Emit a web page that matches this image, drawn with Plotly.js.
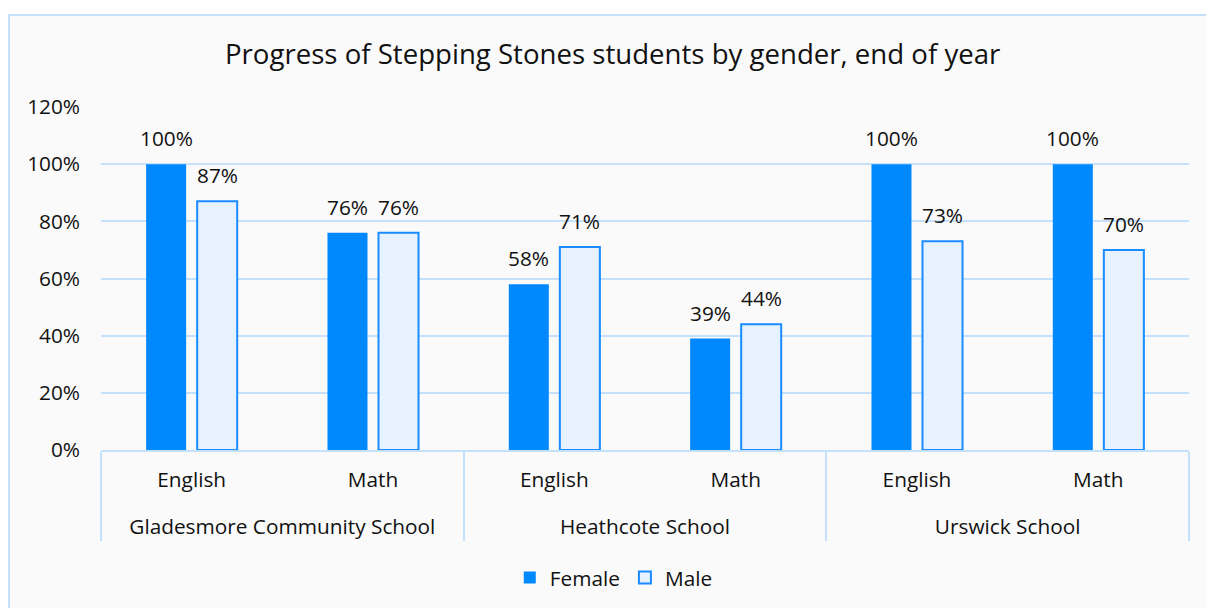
<!DOCTYPE html>
<html>
<head>
<meta charset="utf-8">
<script src="https://cdn.plot.ly/plotly-3.0.1.min.js"></script>
<style>
  html, body { margin: 0; padding: 0; background: #ffffff; width: 1206px; height: 608px; overflow: hidden; }
  #frame { position: absolute; left: 8px; top: 14px; width: 1220px; height: 620px; border: 2px solid #c5e0fb; background: #fafafa; box-sizing: border-box; }
  #chart { position: absolute; left: 0; top: 0; width: 1206px; height: 608px; }
</style>
</head>
<body>
<div id="frame"></div>
<div id="chart"></div>
<script>
const schools = ["Gladesmore Community School", "Gladesmore Community School", "Heathcote School", "Heathcote School", "Urswick School", "Urswick School"];
const subjects = ["English", "Math", "English", "Math", "English", "Math"];
const female = [1.00, 0.76, 0.58, 0.39, 1.00, 1.00];
const male = [0.87, 0.76, 0.71, 0.44, 0.73, 0.70];
const yTicks = [0, 0.2, 0.4, 0.6, 0.8, 1.0, 1.2];
const yTickLabels = ["0%", "20%", "40%", "60%", "80%", "100%", "120%"];

const FONT = "Open Sans, Noto Sans, sans-serif";
const FS = 20.8;
// outer labels drawn one line lower (leading empty line), as in the reference
const outer = schools.map(s => "<br>" + s);
const xCats = [outer, subjects];

const traces = [
  {
    type: "bar", name: "Female", x: xCats, y: female,
    marker: { color: "#0088ff", line: { color: "#0088ff", width: 0 } }
  },
  {
    type: "bar", name: "Male", x: xCats, y: male,
    marker: { color: "#e6f2ff", line: { color: "#1a8cff", width: 2 } }
  }
];

const pct = v => Math.round(v * 100) + "%";
const annotations = [];
[[female, -25.5], [male, 25.5]].forEach(([vals, dx]) => {
  vals.forEach((v, i) => {
    annotations.push({
      xref: "x", yref: "y", x: i, y: v, xshift: dx, yshift: 10,
      text: pct(v), showarrow: false, xanchor: "center", yanchor: "bottom",
      font: { family: FONT, size: FS, color: "#111111" }
    });
  });
});

const layout = {
  width: 1206, height: 608,
  margin: { l: 101, r: 17, t: 107, b: 158, autoexpand: false },
  paper_bgcolor: "rgba(0,0,0,0)",
  plot_bgcolor: "rgba(0,0,0,0)",
  font: { family: FONT, size: FS, color: "#111111" },
  title: {
    text: "Progress of Stepping Stones students by gender, end of year",
    font: { family: FONT, size: 27.6, color: "#111111" },
    x: 0.508, xanchor: "center", xref: "container",
    y: 0.91, yanchor: "middle", yref: "container"
  },
  barmode: "group",
  bargap: 0.437,
  bargroupgap: 0.216,
  showlegend: true,
  legend: {
    orientation: "h", x: 0.4713, xanchor: "center", y: -0.373, yanchor: "middle",
    font: { family: FONT, size: FS, color: "#111111" },
    bgcolor: "rgba(0,0,0,0)", itemwidth: 30
  },
  annotations: annotations,
  xaxis: {
    type: "multicategory", automargin: false,
    showline: true, linecolor: "#c5e0fb", linewidth: 2,
    showdividers: true, dividercolor: "#c5e0fb", dividerwidth: 2,
    ticklabelstandoff: 10,
    tickfont: { family: FONT, size: FS, color: "#111111" },
    ticks: "", showgrid: false, zeroline: false
  },
  yaxis: {
    range: [0, 1.2], automargin: false,
    tickvals: yTicks, ticktext: yTickLabels,
    showgrid: true, gridcolor: "#c5e0fb", gridwidth: 2,
    zeroline: false, showline: false, ticks: "",
    ticklabelstandoff: 20,
    tickfont: { family: FONT, size: FS, color: "#111111" }
  }
};

Plotly.newPlot("chart", traces, layout, { displayModeBar: false, staticPlot: true });
</script>
</body>
</html>
